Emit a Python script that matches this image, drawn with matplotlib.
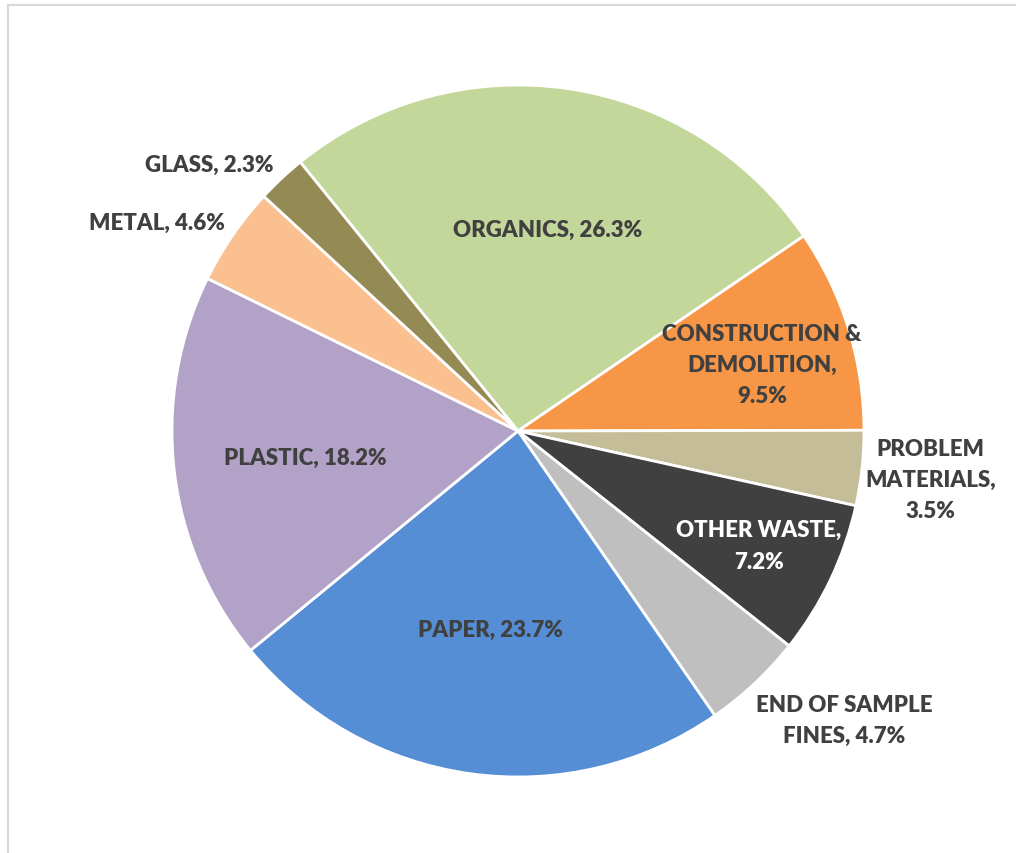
import numpy as np
import matplotlib.pyplot as plt
from matplotlib.patches import Rectangle

# waste composition, clockwise from the top
categories = ["ORGANICS", "CONSTRUCTION &\nDEMOLITION", "PROBLEM\nMATERIALS",
              "OTHER WASTE", "END OF SAMPLE\nFINES", "PAPER", "PLASTIC",
              "METAL", "GLASS"]
shares = [26.3, 9.5, 3.5, 7.2, 4.7, 23.7, 18.2, 4.6, 2.3]
colors = ["#C4D79B", "#F79646", "#C4BD97", "#404040", "#BFBFBF",
          "#558ED5", "#B3A2C7", "#FAC090", "#948A54"]

# label layout: (radius, angle nudge in deg, ha, text colour, label text)
label_style = {
    "ORGANICS": (0.59, 0, "center", "#404040", "ORGANICS, {v}%"),
    "CONSTRUCTION &\nDEMOLITION": (0.73, -2, "center", "#404040", "CONSTRUCTION &\nDEMOLITION,\n{v}%"),
    "PROBLEM\nMATERIALS": (1.20, -0.5, "center", "#404040", "PROBLEM\nMATERIALS,\n{v}%"),
    "OTHER WASTE": (0.77, 0, "center", "white", "OTHER WASTE,\n{v}%"),
    "END OF SAMPLE\nFINES": (1.26, 5.3, "center", "#404040", "END OF SAMPLE\nFINES, {v}%"),
    "PAPER": (0.58, 0, "center", "#404040", "PAPER, {v}%"),
    "PLASTIC": (0.62, 0.4, "center", "#404040", "PLASTIC, {v}%"),
    "METAL": (1.04, -1.0, "right", "#404040", "METAL, {v}%"),
    "GLASS": (1.045, -0.6, "right", "#404040", "GLASS, {v}%"),
}

plt.rcParams['font.family'] = ['Lato', 'DejaVu Sans']

fig = plt.figure(figsize=(10.16, 8.54), dpi=100)
fig.patches.append(Rectangle((7.5 / 1016, -0.1), 1.2, (854 - 5.5) / 854 + 0.1,
                             transform=fig.transFigure, fill=False,
                             edgecolor="#D9D9D9", linewidth=1.5))

r_px = 346
ax = fig.add_axes([(518 - r_px) / 1016, (854 - 432 - r_px) / 854,
                   2 * r_px / 1016, 2 * r_px / 854])
wedges, _ = ax.pie(shares, colors=colors, startangle=129, counterclock=False,
                   radius=1.0, wedgeprops=dict(edgecolor="white", linewidth=2))
ax.set_xlim(-1, 1)
ax.set_ylim(-1, 1)
ax.set_aspect("equal")
ax.axis("off")

for w, cat, v in zip(wedges, categories, shares):
    rad, nudge, ha, tc, fmt = label_style[cat]
    mid = np.deg2rad((w.theta1 + w.theta2) / 2 + nudge)
    x, y = rad * np.cos(mid), rad * np.sin(mid)
    ax.text(x, y, fmt.format(v=v), ha=ha, va="center", multialignment="center",
            color=tc, fontsize=16, fontweight="heavy", linespacing=1.6,
            clip_on=False)

fig.savefig("out.png", dpi=100)
